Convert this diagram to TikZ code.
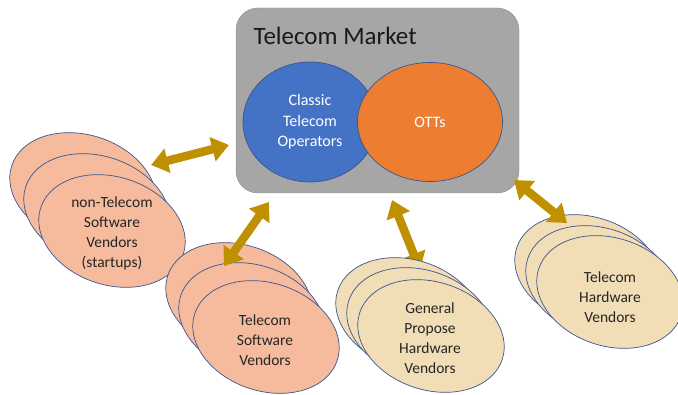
\documentclass[tikz,border=0pt]{standalone}
\usepackage{fontspec}
\setmainfont{Carlito}
\usetikzlibrary{shapes.geometric, arrows.meta, positioning}

\definecolor{mktgray}{HTML}{A6A6A6}
\definecolor{mktedge}{HTML}{8C8C8C}
\definecolor{opblue}{HTML}{4472C4}
\definecolor{ottorange}{HTML}{ED7D31}
\definecolor{edgeblue}{HTML}{3A5590}
\definecolor{peach}{HTML}{F5BB9C}
\definecolor{tan}{HTML}{F1DDB6}
\definecolor{gold}{HTML}{BF9000}
\definecolor{txtdark}{HTML}{262626}

\begin{document}
\begin{tikzpicture}[x=1pt, y=1pt,
    vsw/.style={ellipse, draw=edgeblue, line width=0.7pt, fill=peach, minimum width=150pt, minimum height=108pt, inner sep=0pt, rotate=-18},
    vhw/.style={vsw, fill=tan},
    lbl/.style={align=center, font=\fontsize{15.5}{20}\selectfont, text=txtdark},
    inner/.style={ellipse, draw=edgeblue, line width=0.7pt, align=center, text=white, font=\fontsize{16}{20.5}\selectfont},
    link/.style={line width=8.5pt, draw=gold, {Triangle[length=17pt, width=24pt]}-{Triangle[length=17pt, width=24pt]}},
]
    \clip (0,0) rectangle (678,-395);

    % Telecom market box with its two players
    \node[draw=mktedge, fill=mktgray, rounded corners=22pt, minimum width=283pt, minimum height=185pt] (market) at (377.5,-100.5) {};
    \node[font=\fontsize{25}{30}\selectfont, text=black!90, anchor=base west] (title) at (250,-45) {Telecom Market};
    \node[inner, fill=opblue, minimum width=134pt, minimum height=120pt] (classic) at (310,-122) {Classic\\Telecom\\Operators};
    \node[inner, fill=ottorange, minimum width=145pt, minimum height=119pt] (otts) at (430,-122) {OTTs};

    % non-Telecom software vendors (three layers)
    \node[vsw] (nts3) at (83,-189) {};
    \node[vsw] (nts2) at (97,-210) {};
    \node[vsw] (nts1) at (112,-231) {};
    \node[lbl] (ntsL) at (112,-233) {non-Telecom\\Software\\Vendors\\(startups)};

    % Telecom software vendors
    \node[vsw] (tsw3) at (239,-299) {};
    \node[vsw] (tsw2) at (252,-319) {};
    \node[vsw] (tsw1) at (266,-337) {};
    \node[lbl] (tswL) at (265,-340) {Telecom\\Software\\Vendors};

    % arrow ends
    \coordinate (ntsA) at (151,-165);
    \coordinate (mktA) at (229,-145);
    \coordinate (tswA) at (224,-266);
    \coordinate (mktB) at (269,-202);
    \coordinate (gphA) at (420,-270);
    \coordinate (mktC) at (392,-200);
    \coordinate (thwA) at (567,-223);
    \coordinate (mktD) at (514,-180);

    % this one runs under the hardware stack
    \draw[link] (gphA) -- (mktC);

    % General propose hardware vendors
    \node[vhw] (gph3) at (409,-314) {};
    \node[vhw] (gph2) at (420,-324) {};
    \node[vhw] (gph1) at (431,-336) {};
    \node[lbl] (gphL) at (430,-338) {General\\Propose\\Hardware\\Vendors};

    % Telecom hardware vendors
    \node[vhw] (thw3) at (588,-271) {};
    \node[vhw] (thw2) at (599,-282) {};
    \node[vhw] (thw1) at (610,-292) {};
    \node[lbl] (thwL) at (610,-297) {Telecom\\Hardware\\Vendors};

    % Arrows between vendors and the market
    \draw[link] (ntsA) -- (mktA);
    \draw[link] (tswA) -- (mktB);
    \draw[link] (thwA) -- (mktD);
\end{tikzpicture}
\end{document}
